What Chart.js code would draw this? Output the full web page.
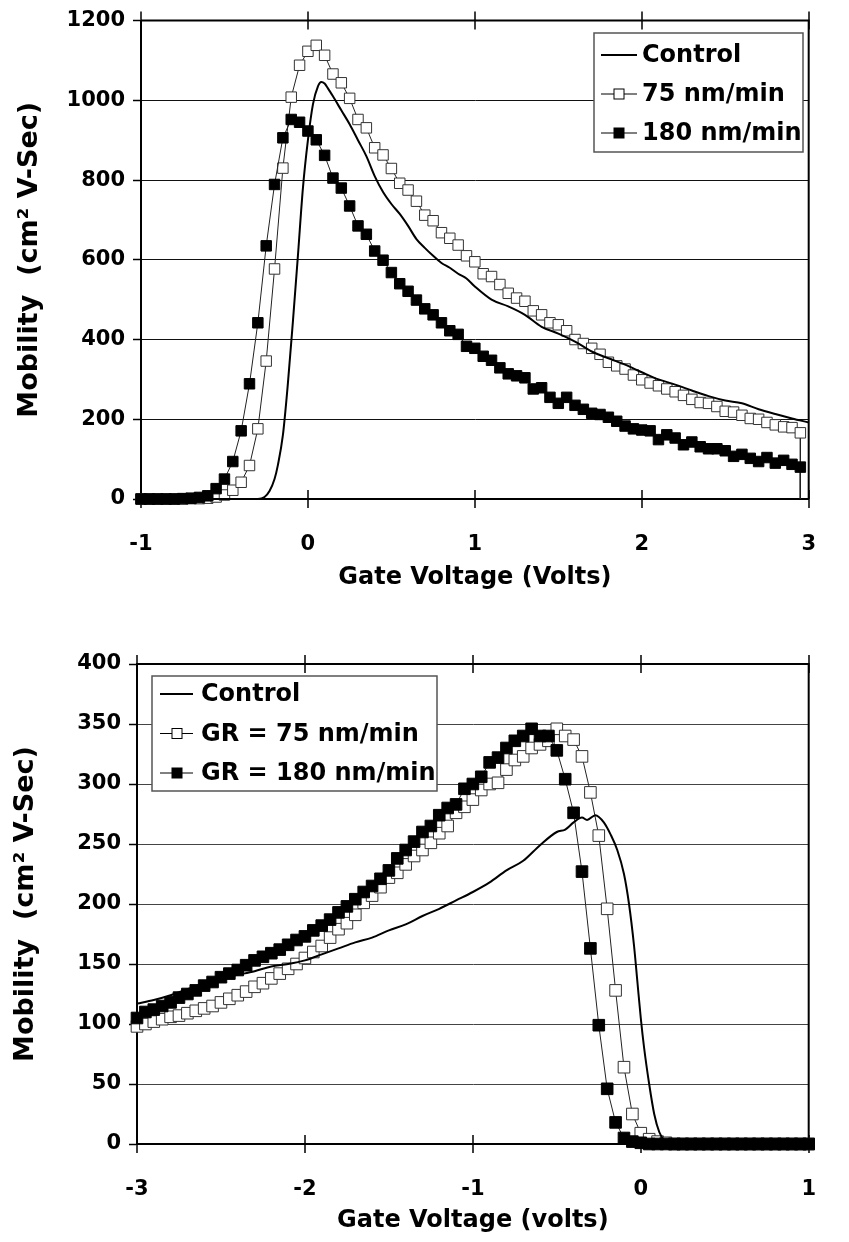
<!DOCTYPE html>
<html>
<head>
<meta charset="utf-8">
<script src="https://cdn.jsdelivr.net/npm/chart.js@4"></script>
<style>
  body { margin: 0; background: #fff; }
  .box { position: relative; width: 849px; }
</style>
</head>
<body>
<div class="box" style="height:620px"><canvas id="chartTop"></canvas></div>
<div class="box" style="height:622px"><canvas id="chartBottom"></canvas></div>
<script>
// ---- top chart data (gate voltage -1..3 V) ----
const topX = [-1, -0.95, -0.9, -0.85, -0.8, -0.75, -0.7, -0.65, -0.6, -0.55,
  -0.5, -0.45, -0.4, -0.35, -0.3, -0.25, -0.2, -0.15, -0.1, -0.05,
  0, 0.05, 0.1, 0.15, 0.2, 0.25, 0.3, 0.35, 0.4, 0.45,
  0.5, 0.55, 0.6, 0.65, 0.7, 0.75, 0.8, 0.85, 0.9, 0.95,
  1, 1.05, 1.1, 1.15, 1.2, 1.25, 1.3, 1.35, 1.4, 1.45,
  1.5, 1.55, 1.6, 1.65, 1.7, 1.75, 1.8, 1.85, 1.9, 1.95,
  2, 2.05, 2.1, 2.15, 2.2, 2.25, 2.3, 2.35, 2.4, 2.45,
  2.5, 2.55, 2.6, 2.65, 2.7, 2.75, 2.8, 2.85, 2.9, 2.95, 2.95];
const top75 = [0, 0, 0, 0, 0, 0, 1, 1, 2, 5,
  10, 22, 42, 84, 176, 346, 577, 830, 1008, 1088,
  1123, 1138, 1113, 1066, 1044, 1005, 952, 931, 881, 863,
  829, 792, 775, 747, 712, 698, 668, 654, 637, 610,
  595, 565, 558, 538, 516, 504, 496, 472, 462, 442,
  437, 422, 400, 390, 378, 363, 343, 334, 326, 311,
  299, 291, 284, 276, 269, 260, 250, 242, 240, 232,
  220, 218, 210, 202, 200, 192, 186, 181, 179, 166, 0];
const top180 = [0, 0, 0, 0, 0, 1, 2, 4, 8, 26,
  50, 94, 171, 289, 442, 635, 789, 906, 952, 945,
  923, 901, 862, 805, 780, 735, 685, 664, 622, 599,
  568, 540, 521, 499, 477, 462, 442, 422, 413, 383,
  378, 358, 348, 329, 314, 309, 304, 276, 279, 255,
  240, 255, 235, 225, 215, 212, 205, 195, 183, 176,
  173, 171, 149, 161, 153, 136, 143, 131, 126, 126,
  121, 107, 112, 102, 94, 104, 90, 97, 87, 80, 0];
const topCtrlX = [-1, -0.3, -0.26, -0.23, -0.2, -0.18, -0.15, -0.12, -0.09, -0.06,
  -0.03, 0, 0.03, 0.06, 0.08, 0.1, 0.12, 0.15, 0.2, 0.25,
  0.3, 0.35, 0.4, 0.45, 0.5, 0.55, 0.6, 0.65, 0.7, 0.75,
  0.8, 0.85, 0.9, 0.95, 1, 1.1, 1.2, 1.3, 1.4, 1.5,
  1.6, 1.7, 1.8, 1.9, 2, 2.1, 2.2, 2.3, 2.4, 2.5,
  2.6, 2.7, 2.8, 2.9, 3, 3.04];
const topCtrl = [0, 0, 5, 20, 50, 85, 160, 290, 445, 610,
  780, 900, 990, 1035, 1046, 1042, 1030, 1010, 975, 940,
  900, 860, 810, 770, 740, 715, 685, 652, 630, 610,
  592, 580, 565, 553, 533, 500, 483, 462, 432, 415,
  395, 370, 353, 337, 318, 300, 287, 272, 258, 247,
  240, 225, 213, 202, 192, 188];
const topLabels = ['Control', '75 nm/min', '180 nm/min'];

// ---- bottom chart data (gate voltage -3..1 V) ----
const botX = [-3, -2.95, -2.9, -2.85, -2.8, -2.75, -2.7, -2.65, -2.6, -2.55,
  -2.5, -2.45, -2.4, -2.35, -2.3, -2.25, -2.2, -2.15, -2.1, -2.05,
  -2, -1.95, -1.9, -1.85, -1.8, -1.75, -1.7, -1.65, -1.6, -1.55,
  -1.5, -1.45, -1.4, -1.35, -1.3, -1.25, -1.2, -1.15, -1.1, -1.05,
  -1, -0.95, -0.9, -0.85, -0.8, -0.75, -0.7, -0.65, -0.6, -0.55,
  -0.5, -0.45, -0.4, -0.35, -0.3, -0.25, -0.2, -0.15, -0.1, -0.05,
  0, 0.05, 0.1, 0.15, 0.2, 0.25, 0.3, 0.35, 0.4, 0.45,
  0.5, 0.55, 0.6, 0.65, 0.7, 0.75, 0.8, 0.85, 0.9, 0.95, 1];
const bot75 = [98, 100, 102, 104, 106, 107, 109, 111, 113, 115,
  118, 121, 124, 127, 131, 134, 138, 142, 146, 150,
  155, 160, 165, 172, 179, 184, 191, 201, 207, 214,
  222, 226, 233, 240, 245, 251, 259, 265, 276, 281,
  287, 295, 300, 301, 312, 320, 323, 330, 333, 336,
  346, 340, 337, 323, 293, 257, 196, 128, 64, 25,
  9, 4, 2, 1, 0, 0, 0, 0, 0, 0,
  0, 0, 0, 0, 0, 0, 0, 0, 0, 0, 0];
const bot180 = [105, 110, 112, 115, 118, 122, 125, 128, 132, 135,
  139, 142, 145, 149, 153, 156, 159, 162, 166, 170,
  173, 178, 182, 187, 193, 198, 204, 210, 215, 221,
  228, 238, 245, 252, 260, 265, 274, 280, 283, 296,
  300, 306, 318, 322, 330, 336, 340, 346, 340, 340,
  328, 304, 276, 227, 163, 99, 46, 18, 5, 2,
  1, 0, 0, 0, 0, 0, 0, 0, 0, 0,
  0, 0, 0, 0, 0, 0, 0, 0, 0, 0, 0];
const botCtrlX = [-3, -2.9, -2.8, -2.7, -2.6, -2.5, -2.4, -2.3, -2.2, -2.1,
  -2, -1.9, -1.8, -1.7, -1.6, -1.5, -1.4, -1.3, -1.2, -1.1,
  -1, -0.9, -0.8, -0.7, -0.6, -0.5, -0.45, -0.4, -0.35, -0.32,
  -0.27, -0.22, -0.18, -0.14, -0.1, -0.07, -0.04, -0.02, 0, 0.02,
  0.05, 0.08, 0.11, 0.14, 0.17, 1];
const botCtrl = [117, 120, 124, 129, 134, 138, 141, 144, 148, 150,
  153, 158, 163, 168, 172, 178, 183, 190, 196, 203,
  210, 218, 228, 236, 249, 260, 262, 268, 272, 270,
  274, 268, 258, 245, 225, 200, 165, 135, 105, 80,
  50, 25, 10, 3, 0, 0];
const botLabels = ['Control', 'GR = 75 nm/min', 'GR = 180 nm/min'];

const FONT = 'DejaVu Sans';
Chart.defaults.font.family = FONT;
Chart.defaults.font.weight = 'bold';
Chart.defaults.color = '#000';

const pts = (xs, ys) => xs.map((x, i) => ({x: x, y: ys[i]}));

// frame: top + right border, cross ticks on the x axis
const framePlugin = {
  id: 'frame',
  beforeDatasetsDraw(chart) {
    const {ctx, chartArea: a} = chart;
    const xs = chart.scales.x;
    ctx.save();
    ctx.strokeStyle = '#000';
    ctx.lineWidth = 2;
    ctx.beginPath();
    ctx.moveTo(a.left, a.top);
    ctx.lineTo(a.right, a.top);
    ctx.lineTo(a.right, a.bottom);
    ctx.stroke();
    ctx.lineWidth = 1.5;
    ctx.beginPath();
    xs.ticks.forEach(t => {
      const px = Math.round(xs.getPixelForValue(t.value));
      ctx.moveTo(px, a.top - 9);
      ctx.lineTo(px, a.top + 9);
      ctx.moveTo(px, a.bottom - 9);
      ctx.lineTo(px, a.bottom + 9);
    });
    ctx.stroke();
    ctx.restore();
  }
};

// legend drawn as a boxed panel inside the plot
const boxLegend = {
  id: 'boxLegend',
  afterDatasetsDraw(chart, args, o) {
    const ctx = chart.ctx;
    ctx.save();
    ctx.fillStyle = '#fff';
    ctx.fillRect(o.left, o.top, o.width, o.height);
    ctx.strokeStyle = '#555';
    ctx.lineWidth = 1.5;
    ctx.strokeRect(o.left, o.top, o.width, o.height);
    chart.data.datasets.forEach((ds, i) => {
      const yy = o.top + o.firstRow + i * o.rowGap;
      ctx.strokeStyle = '#000';
      ctx.lineWidth = ds.pointStyle === 'rect' ? 1 : 2;
      ctx.beginPath();
      ctx.moveTo(o.left + o.lineStart, yy);
      ctx.lineTo(o.left + o.lineEnd, yy);
      ctx.stroke();
      if (ds.pointStyle === 'rect') {
        ctx.fillStyle = ds.pointBackgroundColor;
        ctx.fillRect(o.left + o.marker - 5, yy - 5, 10, 10);
        ctx.lineWidth = 1;
        ctx.strokeRect(o.left + o.marker - 5, yy - 5, 10, 10);
      }
      ctx.fillStyle = '#000';
      ctx.font = 'bold 24px "' + FONT + '"';
      ctx.textBaseline = 'middle';
      ctx.textAlign = 'left';
      ctx.fillText(ds.label, o.left + o.textX, yy + 1);
    });
    ctx.restore();
  }
};

const makeChart = (id, cfg) => {
  const last = cfg.sqX.length - 1;
  const radius = ctx => (cfg.tailDrop && ctx.dataIndex === last) ? 0 : cfg.markR;
  return new Chart(document.getElementById(id), {
    type: 'line',
    data: {
      datasets: [
        { label: cfg.labels[0], data: pts(cfg.ctrlX, cfg.ctrl), borderColor: '#000', borderWidth: 2,
          pointRadius: 0, cubicInterpolationMode: 'monotone', clip: false, order: 0 },
        { label: cfg.labels[1], data: pts(cfg.sqX, cfg.s75), borderColor: '#222', borderWidth: 1,
          pointStyle: 'rect', pointRadius: radius, pointBackgroundColor: '#fff', pointBorderColor: '#333',
          pointBorderWidth: 1, clip: false, order: 2 },
        { label: cfg.labels[2], data: pts(cfg.sqX, cfg.s180), borderColor: '#222', borderWidth: 1,
          pointStyle: 'rect', pointRadius: radius, pointBackgroundColor: '#000', pointBorderColor: '#000',
          pointBorderWidth: 1, clip: false, order: 1 }
      ]
    },
    options: {
      responsive: true,
      maintainAspectRatio: false,
      animation: false,
      events: [],
      layout: { padding: cfg.padding },
      scales: {
        x: {
          type: 'linear', min: cfg.xMin, max: cfg.xMax,
          afterFit: s => { s.height = cfg.xAxisH; },
          ticks: { stepSize: 1, padding: 33, font: {size: 21, weight: 'bold'}, color: '#000',
            callback: v => String(v), maxRotation: 0 },
          grid: { display: false, drawTicks: false },
          border: { display: true, color: '#000', width: 2 },
          title: { display: true, text: cfg.xTitle, font: {size: 24, weight: 'bold'}, color: '#000' }
        },
        y: {
          min: 0, max: cfg.yMax,
          afterFit: s => { s.width = cfg.yAxisW; },
          ticks: { stepSize: cfg.yStep, padding: 8, font: {size: 21, weight: 'bold'}, color: '#000',
            callback: v => String(v) },
          grid: { color: cfg.gridColor, lineWidth: 1, drawTicks: true, tickLength: 8, tickColor: '#000', tickWidth: 1.5 },
          border: { display: true, color: '#000', width: 2 },
          title: { display: true, text: 'Mobility  (cm² V-Sec)', font: {size: 27, weight: 'bold'}, color: '#000' }
        }
      },
      plugins: {
        legend: { display: false },
        tooltip: { enabled: false },
        boxLegend: cfg.legend
      }
    },
    plugins: [framePlugin, boxLegend]
  });
};

makeChart('chartTop', {
  labels: topLabels, ctrlX: topCtrlX, ctrl: topCtrl, sqX: topX, s75: top75, s180: top180,
  tailDrop: true, markR: 7.4, xMin: -1, xMax: 3, yMax: 1200, yStep: 200,
  xTitle: 'Gate Voltage (Volts)', gridColor: '#111',
  padding: { left: 10, right: 13, top: 18, bottom: 24 }, xAxisH: 97, yAxisW: 131,
  legend: { left: 594, top: 33, width: 209, height: 119, firstRow: 22, rowGap: 39,
    lineStart: 7, lineEnd: 43, marker: 25, textX: 48 }
});

makeChart('chartBottom', {
  labels: botLabels, ctrlX: botCtrlX, ctrl: botCtrl, sqX: botX, s75: bot75, s180: bot180,
  tailDrop: false, markR: 8.2, xMin: -3, xMax: 1, yMax: 400, yStep: 50,
  xTitle: 'Gate Voltage (volts)', gridColor: '#444',
  padding: { left: 6, right: 13, top: 44, bottom: 3 }, xAxisH: 95, yAxisW: 131,
  legend: { left: 152, top: 56, width: 285, height: 115, firstRow: 18, rowGap: 39.5,
    lineStart: 8, lineEnd: 41, marker: 25, textX: 49 }
});
</script>
</body>
</html>
